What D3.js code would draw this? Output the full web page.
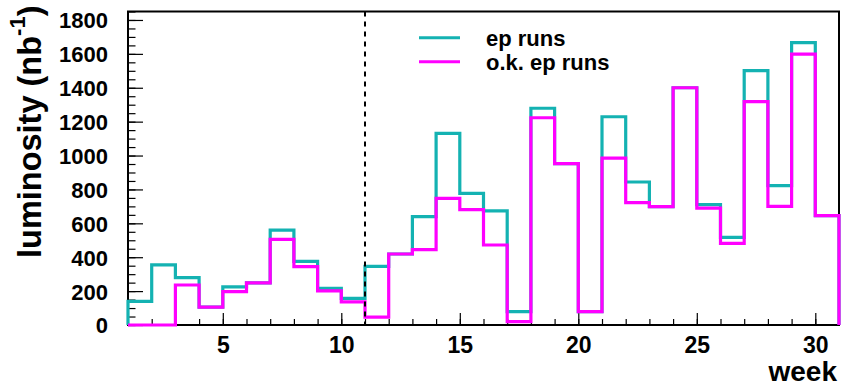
<!DOCTYPE html>
<html>
<head>
<meta charset="utf-8">
<script src="https://cdn.jsdelivr.net/npm/d3@7"></script>
<style>
  html, body { margin: 0; padding: 0; background: #fff; }
  svg { display: block; }
  text { font-family: "Liberation Sans", Arial, Helvetica, sans-serif; font-weight: bold; fill: #000; }
</style>
</head>
<body>
<svg id="chart" width="843" height="388"></svg>
<script>
// Weekly delivered luminosity per bin (weeks 1..31, one-week bins)
const binEdges = d3.range(1, 31);            // lower edge of each week bin
const epRuns   = [140, 355, 280, 106, 225, 248, 560, 376, 216, 157,
                  346, 419, 640, 1131, 777, 673, 79, 1279, 952, 79,
                  1229, 844, 698, 1400, 710, 517, 1501, 822, 1666, 645];
const okEpRuns = [0, 0, 236, 106, 197, 248, 505, 344, 201, 136,
                  47, 419, 445, 747, 681, 472, 20, 1223, 952, 79,
                  985, 722, 698, 1400, 690, 482, 1318, 700, 1599, 645];
const xMajorTicks = [5, 10, 15, 20, 25, 30];
const yMajorTicks = [0, 200, 400, 600, 800, 1000, 1200, 1400, 1600, 1800];
const separatorWeek = 11;
const legendLabels = ["ep runs", "o.k. ep runs"];
const seriesColors = ["#14b2b2", "#ff00ff"];

const svg = d3.select("#chart");
const plotLeft = 128, plotRight = 839, plotTop = 11.5, plotBottom = 325;

const x = d3.scaleLinear().domain([1, 31]).range([plotLeft, plotRight]);
const y = d3.scaleLinear().domain([0, 1850]).range([plotBottom, plotTop]);

// minor ticks
svg.append("g")
  .attr("transform", `translate(${plotLeft},0)`)
  .call(d3.axisLeft(y).tickValues(d3.range(0, 1851, 50)).tickSize(-7.5).tickFormat(""))
  .call(g => g.select(".domain").remove())
  .call(g => g.selectAll("line").attr("stroke-width", 1.2));
svg.append("g")
  .attr("transform", `translate(0,${plotBottom})`)
  .call(d3.axisBottom(x).tickValues(d3.range(2, 31)).tickSize(-6).tickFormat(""))
  .call(g => g.select(".domain").remove())
  .call(g => g.selectAll("line").attr("stroke-width", 1.2));

// major ticks + labels
svg.append("g")
  .attr("transform", `translate(${plotLeft},0)`)
  .call(d3.axisLeft(y).tickValues(yMajorTicks).tickSize(-15).tickPadding(20).tickFormat(d3.format("d")))
  .call(g => g.select(".domain").remove())
  .call(g => g.selectAll("line").attr("stroke-width", 1.2))
  .call(g => g.selectAll("text").attr("font-size", 22).attr("dy", "0.36em"));
svg.append("g")
  .attr("transform", `translate(0,${plotBottom})`)
  .call(d3.axisBottom(x).tickValues(xMajorTicks).tickSize(-12).tickPadding(12).tickFormat(d3.format("d")))
  .call(g => g.select(".domain").remove())
  .call(g => g.selectAll("line").attr("stroke-width", 1.2))
  .call(g => g.selectAll("text").attr("font-size", 23).attr("dy", "0.71em"));

// frame
svg.append("rect")
  .attr("x", plotLeft).attr("y", plotTop)
  .attr("width", plotRight - plotLeft).attr("height", plotBottom - plotTop)
  .attr("fill", "none").attr("stroke", "#000").attr("stroke-width", 2);

// step outline of a histogram
const stepLine = d3.line().x(d => x(d[0])).y(d => y(d[1])).curve(d3.curveLinear);
function outline(values) {
  const pts = [[binEdges[0], 0]];
  values.forEach((v, i) => { pts.push([binEdges[i], v]); pts.push([binEdges[i] + 1, v]); });
  pts.push([binEdges[binEdges.length - 1] + 1, 0]);
  return pts;
}

[epRuns, okEpRuns].forEach((vals, i) => {
  svg.append("path")
    .attr("d", stepLine(outline(vals)))
    .attr("fill", "none")
    .attr("stroke", seriesColors[i])
    .attr("stroke-width", 3.2)
    .attr("stroke-linejoin", "miter");
});

// dashed separator
svg.append("line")
  .attr("x1", x(separatorWeek)).attr("x2", x(separatorWeek))
  .attr("y1", plotTop).attr("y2", plotBottom)
  .attr("stroke", "#000").attr("stroke-width", 2)
  .attr("stroke-dasharray", "5,5");

// legend
const legend = svg.append("g");
legendLabels.forEach((lab, i) => {
  const ly = 37.7 + i * 24;
  legend.append("line")
    .attr("x1", 419).attr("x2", 460).attr("y1", ly).attr("y2", ly)
    .attr("stroke", seriesColors[i]).attr("stroke-width", 3);
  legend.append("text")
    .attr("x", 486).attr("y", ly + 8.5)
    .attr("font-size", 22)
    .text(lab);
});

// axis titles
svg.append("text")
  .attr("x", 837).attr("y", 381)
  .attr("text-anchor", "end")
  .attr("font-size", 28)
  .text("week");

const yTitle = svg.append("text")
  .attr("transform", "translate(41,258) rotate(-90)")
  .attr("font-size", 32.5);
yTitle.append("tspan").text("luminosity (nb");
yTitle.append("tspan").attr("font-size", 22).attr("dy", -16).text("-1");
yTitle.append("tspan").attr("dy", 16).text(")");
</script>
</body>
</html>
